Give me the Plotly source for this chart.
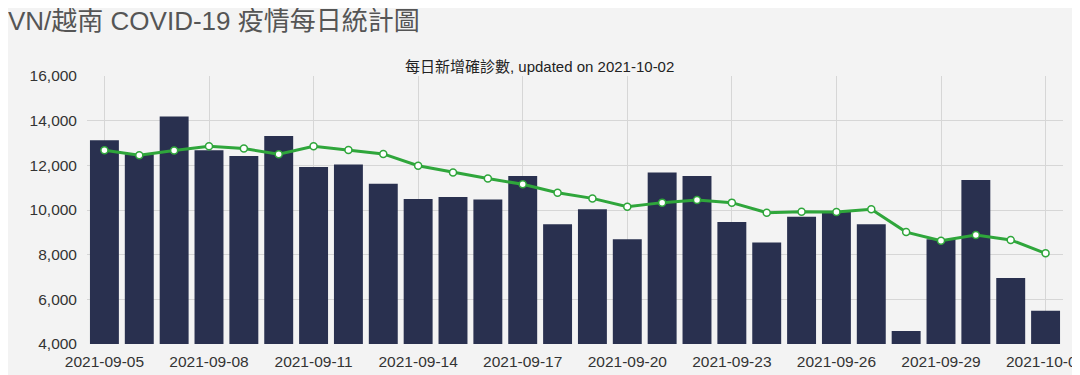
import plotly.graph_objects as go
import pandas as pd

dates = pd.date_range("2021-09-05", "2021-10-02", freq="D").strftime("%Y-%m-%d").tolist()
daily_cases = [13120, 12500, 14190, 12680, 12420, 13310, 11930, 12040, 11170, 10490,
               10580, 10470, 11520, 9360, 10030, 8690, 11680, 11520, 9460, 8540,
               9700, 9950, 9360, 4580, 8690, 11340, 6950, 5490]
avg_7day = [12680, 12450, 12660, 12850, 12750, 12500, 12850, 12690, 12510, 11980,
            11680, 11410, 11150, 10770, 10520, 10150, 10330, 10450, 10330, 9880,
            9920, 9910, 10030, 9010, 8620, 8880, 8660, 8060]
tick_dates = dates[::3]
y_ticks = [4000, 6000, 8000, 10000, 12000, 14000, 16000]

FONT = "Liberation Sans, Arial, Noto Sans CJK TC, sans-serif"

fig = go.Figure()
fig.add_trace(go.Bar(
    x=dates, y=daily_cases, marker=dict(color="#29304f", line=dict(width=0)),
    name="每日新增確診數", hoverinfo="x+y"))
fig.add_trace(go.Scatter(
    x=dates, y=avg_7day, mode="lines+markers",
    line=dict(color="#2fa63b", width=3),
    marker=dict(size=7, color="white", line=dict(color="#2fa63b", width=1.5)),
    name="7日平均"))

fig.update_layout(
    width=1072, height=367,
    margin=dict(l=78.5, r=16.5, t=67.5, b=30.5),
    paper_bgcolor="#f3f3f3", plot_bgcolor="#f3f3f3",
    showlegend=False, bargap=0.17,
    font=dict(family=FONT, size=15.5, color="#333"),
    title=dict(text="VN/越南 COVID-19 疫情每日統計圖", x=0, xanchor="left", xref="container",
               y=0.99, yanchor="top",
               font=dict(family=FONT, size=26, color="#555")),
    annotations=[dict(text="每日新增確診數, updated on 2021-10-02", xref="paper", yref="paper",
                      x=0.464, y=1.0, xanchor="center", yanchor="middle", yshift=10,
                      showarrow=False, font=dict(family=FONT, size=15, color="#222"))],
)
fig.update_xaxes(
    type="date", range=["2021-09-04 12:00", "2021-10-02 12:00"],
    tickvals=tick_dates, ticktext=tick_dates,
    showgrid=True, gridcolor="#d6d6d6", gridwidth=1,
    showline=False, zeroline=False, ticks="", ticklabelstandoff=6,
    ticklabeloverflow="allow",
    tickfont=dict(size=15.5, color="#333"), automargin=False)
fig.update_yaxes(
    range=[4000, 16000], tickvals=y_ticks, tickformat=",",
    showgrid=True, gridcolor="#d6d6d6", gridwidth=1,
    showline=False, zeroline=False, ticks="", ticklabelstandoff=9,
    tickfont=dict(size=15.5, color="#333"), automargin=False)

fig.write_html("out.html")
